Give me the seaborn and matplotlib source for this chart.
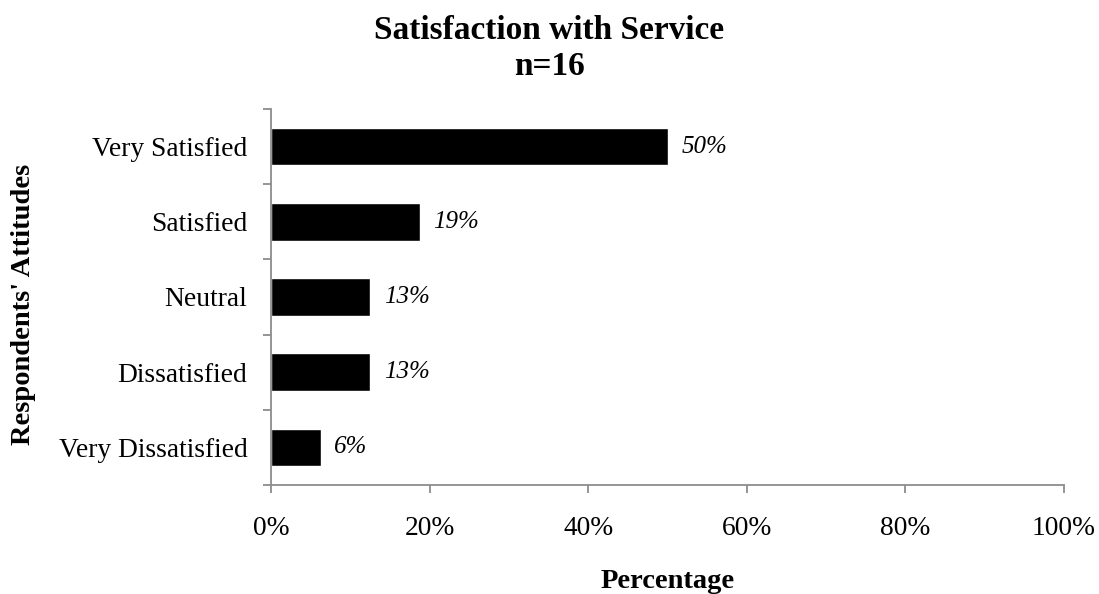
import matplotlib
matplotlib.use("Agg")
import matplotlib.pyplot as plt
import seaborn as sns
import pandas as pd
from matplotlib.ticker import FuncFormatter, FixedLocator

categories = ["Very Satisfied", "Satisfied", "Neutral", "Dissatisfied", "Very Dissatisfied"]
values = [50.0, 18.75, 12.5, 12.5, 6.25]
value_labels = ["50%", "19%", "13%", "13%", "6%"]
x_ticks = [0, 20, 40, 60, 80, 100]

sns.set_style("white")
plt.rcParams["font.family"] = ["Liberation Serif", "DejaVu Serif"]
plt.rcParams["text.color"] = "black"
plt.rcParams["xtick.labelcolor"] = "black"
plt.rcParams["ytick.labelcolor"] = "black"
plt.rcParams["axes.labelcolor"] = "black"

df = pd.DataFrame({"Attitude": categories, "Percentage": values})

fig = plt.figure(figsize=(10.99, 5.94), dpi=100)
ax = fig.add_axes([271/1099, 1-485/594, (1064-271)/1099, (485-109)/594])

sns.barplot(data=df, y="Attitude", x="Percentage", orient="h", color="black",
            width=0.5, ax=ax, saturation=1)

ax.set_xlim(0, 100)
ax.set_ylim(4.5, -0.5)
ax.xaxis.set_major_locator(FixedLocator(x_ticks))
ax.xaxis.set_major_formatter(FuncFormatter(lambda v, p: f"{v:.0f}%"))

for s in ["top", "right"]:
    ax.spines[s].set_visible(False)
for s in ["left", "bottom"]:
    ax.spines[s].set_color("#8c8c8c")
    ax.spines[s].set_linewidth(1.3)

ax.tick_params(axis="x", which="major", length=6, width=1.3, color="#8c8c8c",
               direction="out", pad=16, labelsize=19.8, bottom=True, labelcolor="black")
ax.set_yticks(range(len(categories)))
ax.set_yticklabels(categories)
ax.set_yticks([i - 0.5 for i in range(len(categories) + 1)], minor=True)
ax.tick_params(axis="y", which="major", length=0, pad=17, labelsize=19.8, labelcolor="black")
ax.tick_params(axis="y", which="minor", length=6, width=1.3, color="#8c8c8c",
               direction="out", left=True)

ax.bar_label(ax.containers[0], labels=value_labels, padding=10,
             fontsize=18, fontstyle="italic", color="black")

ax.set_xlabel("Percentage", fontsize=20.5, fontweight="bold", color="black")
ax.set_ylabel("Respondents' Attitudes", fontsize=20.5, fontweight="bold", color="black")
ax.xaxis.set_label_coords(0.5, -(569-485)/376)
ax.yaxis.set_label_coords((36-271)/793, 0.5 - 7/376)

fig.text(0.5, 1-15/594, "Satisfaction with Service\nn=16", ha="center", va="top",
         fontsize=24, fontweight="bold", linespacing=1.2, color="black")

fig.savefig("out.png", dpi=100)
